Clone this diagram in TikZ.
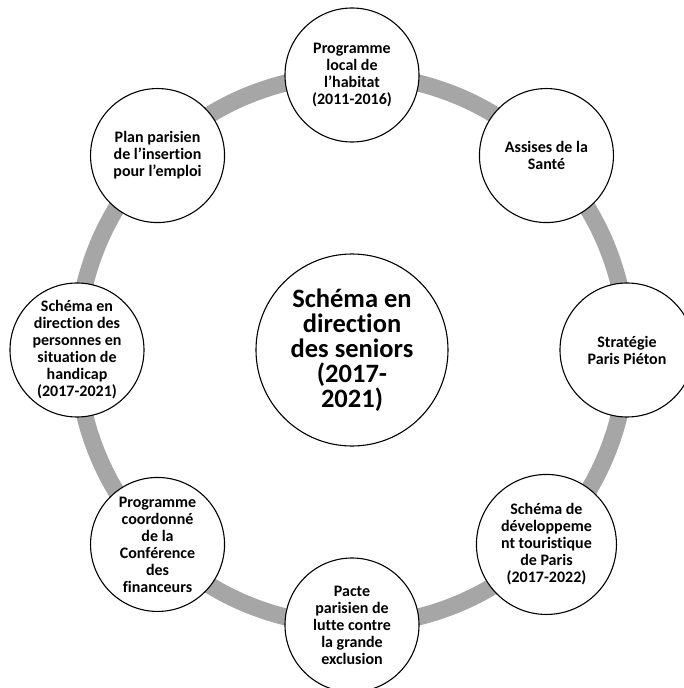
\documentclass[tikz,border=0pt]{standalone}
\usepackage{fontspec}
\setmainfont{Carlito}[Ligatures=NoCommon]
\definecolor{ringgray}{HTML}{A6A6A6}
\tikzset{
  satellite/.style={circle, draw=black, line width=1.1pt, fill=white,
    minimum size=134pt, inner sep=0pt, align=center,
    font=\bfseries\fontsize{16}{17}\selectfont},
  hub/.style={circle, draw=black, line width=1.1pt, fill=white,
    minimum size=192pt, inner sep=0pt, align=center,
    font=\bfseries\fontsize{26.5}{25}\selectfont}
}
\begin{document}
\begin{tikzpicture}
    % cadre de l'image
    \useasboundingbox (-352pt,-338pt) rectangle (332pt,350pt);

    % rayon de l'anneau
    \pgfmathsetmacro{\ringr}{275}

    % anneau gris
    \draw[ringgray, line width=17pt] (0,0) circle (\ringr pt);

    % schéma central
    \node[hub] (seniors) at (0,0) {Schéma en\\direction\\des seniors\\(2017-\\2021)};

    % schémas autour
    \node[satellite] (habitat) at (90:\ringr pt) {Programme\\local de\\l’habitat\\(2011-2016)};
    \node[satellite] (sante) at (45:\ringr pt) {Assises de la\\Santé};
    \node[satellite] (pieton) at (0:\ringr pt) {Stratégie\\Paris Piéton};
    \node[satellite, minimum size=140pt] (tourisme) at (-45:\ringr pt) {Schéma de\\développeme\\nt touristique\\de Paris\\(2017-2022)};
    \node[satellite] (pacte) at (-90:\ringr pt) {Pacte\\parisien de\\lutte contre\\la grande\\exclusion};
    \node[satellite] (financeurs) at (-135:\ringr pt) {Programme\\coordonné\\de la\\Conférence\\des\\financeurs};
    \node[satellite] (handicap) at (180:\ringr pt) {Schéma en\\direction des\\personnes en\\situation de\\handicap\\(2017-2021)};
    \node[satellite] (emploi) at (135:\ringr pt) {Plan parisien\\de l’insertion\\pour l’emploi};
\end{tikzpicture}
\end{document}
